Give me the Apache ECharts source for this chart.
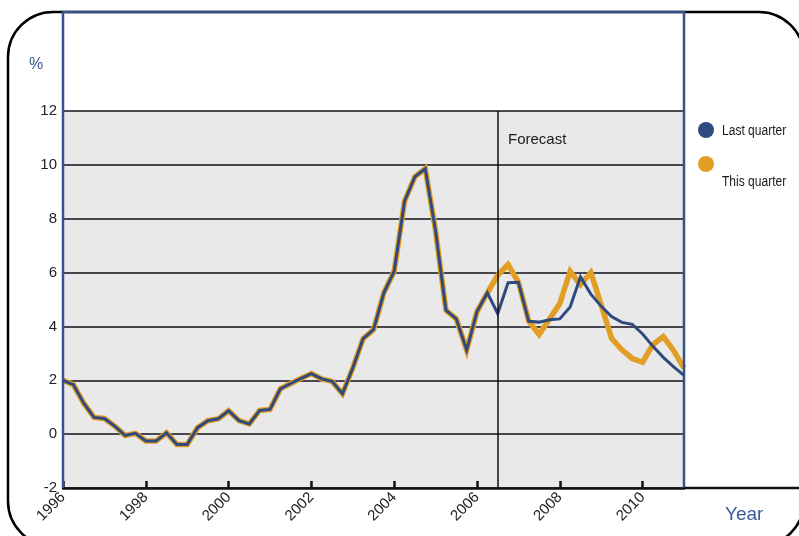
<!DOCTYPE html>
<html>
<head>
<meta charset="utf-8">
<script src="https://cdn.jsdelivr.net/npm/echarts@6/dist/echarts.min.js"></script>
<style>
  html, body { margin: 0; padding: 0; background: #ffffff; }
  #chart { width: 799px; height: 536px; }
</style>
</head>
<body>
<div id="chart"></div>
<script>
// Quarterly series, first quarter of 1996 onwards (percent)
const startYear = 1996;
const pointsPerYear = 4;

// Outturns shared by both vintages (1996 Q1 .. 2006 Q2)
const history = [
  2.0, 1.84, 1.15, 0.62, 0.58, 0.3, -0.05, 0.03,
  -0.25, -0.25, 0.05, -0.38, -0.38, 0.24, 0.5, 0.57,
  0.87, 0.5, 0.38, 0.88, 0.92, 1.68, 1.88, 2.07,
  2.25, 2.05, 1.96, 1.5, 2.46, 3.55, 3.88, 5.25,
  6.05, 8.65, 9.56, 9.86, 7.54, 4.6, 4.28, 3.12,
  4.55, 5.25
];

// Projections from 2006 Q3 to 2011 Q1
const lastQuarterForecast = [
  4.48, 5.62, 5.64, 4.19, 4.16, 4.25, 4.28, 4.72,
  5.84, 5.2, 4.75, 4.37, 4.15, 4.08, 3.72, 3.26,
  2.85, 2.5, 2.18
];
const thisQuarterForecast = [
  5.9, 6.3, 5.65, 4.2, 3.7, 4.27, 4.85, 6.05,
  5.55, 6.0, 4.8, 3.56, 3.13, 2.81, 2.67, 3.33,
  3.62, 3.1, 2.45
];

const seriesNames = ['Last quarter', 'This quarter'];
const forecastFrom = 2006.5;
const yTicks = { min: -2, max: 12, step: 2 };
const xTicks = { min: 1996, max: 2011, step: 2 };

const navy = '#2e4a7f';
const amber = '#e19d24';
const frameBlue = '#34528b';
const labelBlue = '#3b5b95';

function toPairs(values) {
  return values.map((v, i) => [startYear + i / pointsPerYear, v]);
}
const lastQuarter = toPairs(history.concat(lastQuarterForecast));
const thisQuarter = toPairs(history.concat(thisQuarterForecast));

const chart = echarts.init(document.getElementById('chart'), null, { renderer: 'canvas' });

const gridBox = { left: 63, right: 115, top: 111, bottom: 48 };
const W = 799, H = 536;
const plotLeft = gridBox.left, plotRight = W - gridBox.right, plotBottom = H - gridBox.bottom;
const frameTop = 12;

const tickFont = '"Liberation Sans", Arial, sans-serif';

chart.setOption({
  animation: false,
  backgroundColor: '#ffffff',
  grid: {
    left: gridBox.left, right: gridBox.right, top: gridBox.top, bottom: gridBox.bottom,
    show: true, backgroundColor: '#e9e9e9', borderWidth: 0, containLabel: false
  },
  xAxis: {
    type: 'value',
    min: xTicks.min, max: xTicks.max, interval: xTicks.step,
    axisLine: { show: true, onZero: false, lineStyle: { color: '#111111', width: 2.5 } },
    axisTick: { show: true, inside: true, length: 7, lineStyle: { color: '#111111', width: 2.5 } },
    axisLabel: {
      rotate: 45, margin: 7, color: '#222222', fontSize: 15, fontFamily: tickFont,
      showMaxLabel: false, formatter: v => String(v)
    },
    splitLine: { show: false }
  },
  yAxis: {
    type: 'value',
    min: yTicks.min, max: yTicks.max, interval: yTicks.step,
    axisLine: { show: false },
    axisTick: { show: false },
    axisLabel: { margin: 6, color: '#222222', fontSize: 15, fontFamily: tickFont },
    splitLine: { show: true, lineStyle: { color: '#101118', width: 1.7 } }
  },
  series: [
    {
      name: seriesNames[1],
      type: 'line',
      data: thisQuarter,
      showSymbol: false,
      z: 3,
      lineStyle: { color: amber, width: 5.5, join: 'miter' },
      markLine: {
        silent: true,
        symbol: 'none',
        label: { show: false },
        lineStyle: { color: '#111111', width: 1.5, type: 'solid' },
        data: [{ xAxis: forecastFrom }]
      }
    },
    {
      name: seriesNames[0],
      type: 'line',
      data: lastQuarter,
      showSymbol: false,
      z: 4,
      lineStyle: { color: navy, width: 3, join: 'miter' }
    }
  ],
  graphic: [
    // rounded outer border
    {
      type: 'rect', z: 0, silent: true,
      shape: { x: 8, y: frameTop, width: 796, height: 534, r: 45 },
      style: { fill: null, stroke: '#000000', lineWidth: 2.5 }
    },
    // blue frame around the plot column
    {
      type: 'polyline', z: 50, silent: true,
      shape: { points: [[plotLeft, plotBottom], [plotLeft, frameTop], [plotRight, frameTop], [plotRight, plotBottom]] },
      style: { fill: null, stroke: frameBlue, lineWidth: 2.5 }
    },
    // axis baseline continued under the legend column
    {
      type: 'line', z: 50, silent: true,
      shape: { x1: plotRight, y1: plotBottom, x2: W, y2: plotBottom },
      style: { stroke: '#111111', lineWidth: 2.5 }
    },
    {
      type: 'text', z: 60, x: 29, y: 57,
      style: { text: '%', fill: labelBlue, font: '16px ' + tickFont }
    },
    {
      type: 'text', z: 60, x: 725, y: 505,
      style: { text: 'Year', fill: labelBlue, font: '19px ' + tickFont }
    },
    {
      type: 'text', z: 60, x: 508, y: 132,
      style: { text: 'Forecast', fill: '#1a1a1a', font: '15px ' + tickFont }
    },
    // legend
    {
      type: 'circle', z: 60, shape: { cx: 706, cy: 130, r: 8 },
      style: { fill: navy }
    },
    {
      type: 'text', z: 60, x: 722, y: 124, scaleX: 0.86,
      style: { text: seriesNames[0], fill: '#1a1a1a', font: '14px ' + tickFont }
    },
    {
      type: 'circle', z: 60, shape: { cx: 706, cy: 164, r: 8 },
      style: { fill: amber }
    },
    {
      type: 'text', z: 60, x: 722, y: 175, scaleX: 0.86,
      style: { text: seriesNames[1], fill: '#1a1a1a', font: '14px ' + tickFont }
    }
  ]
});
</script>
</body>
</html>
